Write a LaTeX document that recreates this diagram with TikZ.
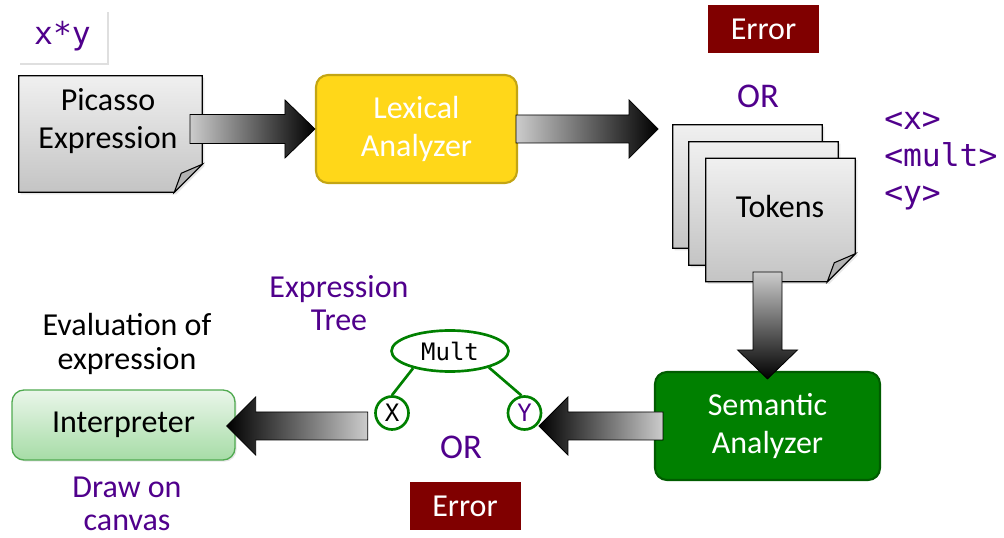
\documentclass[tikz,border=0pt]{standalone}
\usepackage{fontspec}
\setmainfont{Carlito}
\newfontfamily\monof{DejaVu Sans Mono}
\usetikzlibrary{shapes.geometric,shadows,calc}
\pgfdeclarelayer{background}
\pgfsetlayers{background,main}
\definecolor{purp}{RGB}{80,0,140}
\definecolor{errred}{RGB}{128,0,0}
\definecolor{lexy}{RGB}{255,215,25}
\definecolor{lexb}{RGB}{195,165,20}
\definecolor{semg}{RGB}{0,128,0}
\definecolor{semb}{RGB}{0,92,0}
\definecolor{treeg}{RGB}{0,128,0}
\definecolor{intop}{RGB}{234,246,234}
\definecolor{inbot}{RGB}{166,220,166}
\definecolor{inbord}{RGB}{80,170,80}
\definecolor{pagetop}{RGB}{240,240,240}
\definecolor{pagebot}{RGB}{196,196,196}
\newcommand\foldpage[1]{%
 \shade[top color=pagetop, bottom color=pagebot, draw=black, line width=0.8pt,
   drop shadow={opacity=0.2,shadow xshift=1.5pt,shadow yshift=-1.5pt}]
  (#1.north west) -- (#1.north east) -- ($(#1.south east)+(0,-28)$) -- ($(#1.south east)+(-28,0)$) -- (#1.south west) -- cycle;
 \filldraw[fill=gray!60, draw=black, line width=0.8pt] ($(#1.south east)+(0,-28)$) -- ($(#1.south east)+(-21,-19)$) -- ($(#1.south east)+(-28,0)$) -- cycle;}
\begin{document}
\begin{tikzpicture}[x=0.75pt,y=-0.75pt,
  big/.style={font=\fontsize{24}{29}\selectfont, align=center, inner sep=0pt},
  lbl/.style={font=\fontsize{24}{25}\selectfont, align=center, inner sep=0pt},
  mono/.style={font=\monof\fontsize{23.5}{28}\selectfont, inner sep=0pt},
  emptybox/.style={rectangle, inner sep=0pt},
  errbox/.style={rectangle, fill=errred, draw=white, line width=3.75pt, minimum width=87pt, minimum height=39.75pt,
     text=white, font=\fontsize{24}{29}\selectfont, drop shadow={opacity=0.3,shadow xshift=1.2pt,shadow yshift=-1.2pt}},
  garrow/.style={draw=black, line width=0.6pt},
  treeline/.style={draw=treeg, line width=2pt}
]
\useasboundingbox (0,0) rectangle (1004,538);

% top row
\node[rectangle, fill=white, minimum width=66.75pt, minimum height=39.75pt, mono, text=purp,
   drop shadow={opacity=0.25,shadow xshift=1.2pt,shadow yshift=-1.2pt}] (xy) at (62.5,36.5) {x*y};
\node[emptybox, minimum width=137.25pt, minimum height=87pt] (pic) at (110.5,134) {};
\node[big] (pictext) at (108,121) {Picasso\\Expression};
\node[rectangle, rounded corners=9pt, fill=lexy, draw=lexb, line width=1.6pt, minimum width=150.75pt, minimum height=81pt,
   big, text=white] (lex) at (416.5,129) {Lexical\\Analyzer};

\node[errbox] (err1) at (763.5,29) {Error};
\node[lbl, text=purp, font=\fontsize{26}{27}\selectfont] (or1) at (758,96) {OR};

\node[emptybox, minimum width=111.75pt, minimum height=92.25pt] (tok1) at (747.5,186.5) {};
\node[emptybox, minimum width=111.75pt, minimum height=92.25pt] (tok2) at (763.5,203.5) {};
\node[emptybox, minimum width=111.75pt, minimum height=92.25pt] (tok3) at (780.5,220) {};
\node[big] (toktext) at (780,207) {Tokens};
\node[mono, text=purp, align=left, anchor=west] (toklist) at (884,161) {<x>\\<mult>\\<y>};

\begin{pgfonlayer}{background}
 \foldpage{pic}
 \foldpage{tok1}
 \foldpage{tok2}
 \foldpage{tok3}
\end{pgfonlayer}

% bottom row
\node[rectangle, rounded corners=9pt, fill=semg, draw=semb, line width=1.6pt, minimum width=168.75pt, minimum height=81pt,
   big, text=white] (sem) at (767.5,426) {Semantic\\Analyzer};
\node[rectangle, rounded corners=9pt, top color=intop, bottom color=inbot, draw=inbord, line width=1pt,
   minimum width=167.25pt, minimum height=52.5pt, big,
   drop shadow={opacity=0.2,shadow xshift=1.2pt,shadow yshift=-1.2pt}] (interp) at (123.5,425) {Interpreter};
\node[lbl] (evallbl) at (127,344) {Evaluation of\\expression};
\node[lbl, text=purp] (drawlbl) at (127,504) {Draw on\\canvas};
\node[lbl, text=purp] (treelbl) at (339,303) {Expression\\Tree};
\node[lbl, text=purp, font=\fontsize{26}{27}\selectfont] (or2) at (461,447) {OR};
\node[errbox] (err2) at (465,506) {Error};

% tree
\node[ellipse, draw=treeg, line width=2pt, fill=white, minimum width=87.75pt, minimum height=30.75pt, inner sep=0pt,
   font=\monof\fontsize{18}{20}\selectfont] (mult) at (450,351) {Mult};
\node[circle, draw=treeg, line width=2pt, fill=white, minimum size=24.75pt, inner sep=0pt,
   font=\monof\fontsize{18}{20}\selectfont] (X) at (392,413) {X};
\node[circle, draw=treeg, line width=2pt, fill=white, minimum size=24.75pt, inner sep=0pt,
   font=\monof\fontsize{18}{20}\selectfont, text=purp] (Y) at (524.5,413) {Y};
\draw[treeline] (mult.205) -- (X.north);
\draw[treeline] (mult.337) -- (Y.100);

% block arrows
\shade[garrow, left color=gray!40, right color=black]
  (lex.west) -- ++(-30,-29) -- ++(0,14.5) -- ++(-95,0) -- ++(0,29) -- ++(95,0) -- ++(0,14.5) -- cycle;
\coordinate (a2tip) at ($(lex.east)+(140,0)$);
\shade[garrow, left color=gray!40, right color=black]
  (a2tip) -- ++(-29,-29) -- ++(0,15) -- ++(-113,0) -- ++(0,28) -- ++(113,0) -- ++(0,15) -- cycle;
\coordinate (a3tip) at ($(sem.north)+(0,8)$);
\shade[garrow, top color=gray!40, bottom color=black]
  (a3tip) -- ++(-30,-29) -- ++(15.5,0) -- ++(0,-78) -- ++(29,0) -- ++(0,78) -- ++(15.5,0) -- cycle;
\coordinate (a4tip) at ($(sem.west)+(-115,0)$);
\shade[garrow, left color=black, right color=gray!40]
  (a4tip) -- ++(29,-29) -- ++(0,15) -- ++(95,0) -- ++(0,28) -- ++(-95,0) -- ++(0,15) -- cycle;
\coordinate (a5tip) at ($(interp.east)+(-9,1)$);
\shade[garrow, left color=black, right color=gray!40]
  (a5tip) -- ++(29,-29) -- ++(0,15) -- ++(112,0) -- ++(0,28) -- ++(-112,0) -- ++(0,15) -- cycle;
\end{tikzpicture}
\end{document}
